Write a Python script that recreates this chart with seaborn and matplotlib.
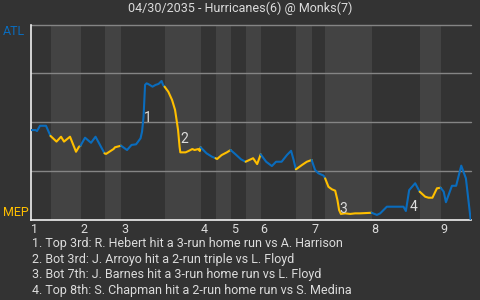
import matplotlib
matplotlib.use("Agg")
import matplotlib.pyplot as plt
import seaborn as sns
import pandas as pd

# ---------------- data ----------------
title = "04/30/2035 - Hurricanes(6) @ Monks(7)"
away_label = "ATL"
home_label = "MEP"

# half-inning boundaries (pitch number)
half_bounds = [0, 13, 33, 49, 60, 89, 113, 123, 133, 143, 153, 176.5, 187, 196, 227, 259, 273, 293]
inning_labels = ["1", "2", "3", "4", "5", "6", "7", "8", "9"]

# win probability (ATL %) by pitch number
pitch = [0, 3, 4, 6, 10, 13,
         17, 20, 22, 26, 30, 32, 33,
         36, 40, 43, 49,
         50, 53, 55, 56, 60,
         64, 67, 70, 71, 73, 74, 75, 76, 77, 78, 81, 83, 85, 87, 88, 89,
         91.5, 94, 96, 97, 98, 99, 99.5, 103, 105, 107.5, 109, 111.5, 112.5, 113,
         117, 120.5, 123,
         124, 127, 130.5, 133,
         136, 140, 143,
         145.5, 148, 150.7, 152.5, 153,
         156.7, 160.5, 163.3, 167, 170.5, 173.3, 175, 176.5,
         180.5, 183.8, 187,
         189.3, 191.5, 195, 196,
         198.2, 200.5, 202.7, 204.2, 205.3, 206.5, 209.3, 212.7, 216, 219.3, 227,
         230.5, 232.7, 237.1, 240.5, 248.2, 249.8, 252, 256, 259,
         262.7, 264.9, 267.5, 270.5, 273,
         275, 276.5, 280.5, 283.3, 286.7, 289.8, 293]
win_prob = [46.0, 46.0, 45.5, 48.2, 48.2, 43.0,
            40.1, 42.6, 40.1, 42.6, 34.9, 37.5, 38.0,
            42.1, 39.5, 42.6, 34.1,
            33.8, 35.3, 36.3, 37.2, 38.0,
            35.8, 38.4, 38.7, 39.7, 41.8, 45.2, 52.8, 69.1, 69.9, 69.6, 68.2, 69.1, 69.6, 71.1, 69.1, 68.2,
            65.6, 61.4, 56.3, 51.2, 46.0, 37.5, 34.6, 34.6, 35.3, 36.3, 35.8, 36.3, 35.3, 37.2,
            34.1, 32.4, 31.6,
            31.2, 33.2, 34.6, 35.8,
            33.8, 31.0, 29.8,
            30.7, 31.6, 28.6, 32.4, 33.6,
            29.8, 27.6, 29.8, 29.8, 33.2, 35.4, 30.7, 25.9,
            28.1, 29.8, 30.7,
            25.6, 23.9, 22.7, 21.3,
            17.0, 15.7, 15.0, 10.2, 5.1, 3.1, 3.4, 3.1, 3.4, 3.4, 3.7,
            2.6, 3.4, 6.8, 6.8, 6.8, 4.6, 15.3, 18.8, 14.5,
            11.9, 11.4, 11.4, 16.2, 16.5,
            14.5, 9.1, 17.5, 17.5, 27.8, 21.3, 0.0]

event_numbers = ["1", "2", "3", "4"]
event_x = [78, 102, 208, 254.7]
event_y = [52.2, 41.4, 5.4, 6.8]
event_texts = [
    "1. Top 3rd: R. Hebert hit a 3-run home run vs A. Harrison",
    "2. Bot 3rd: J. Arroyo hit a 2-run triple vs L. Floyd",
    "3. Bot 7th: J. Barnes hit a 3-run home run vs L. Floyd",
    "4. Top 8th: S. Chapman hit a 2-run home run vs S. Medina",
]

# ---------------- style ----------------
BG = "#333333"
BAND = "#434343"
GRID = "#858585"
TXT = "#dcdcdc"
BLUE = "#0a6cbd"
YELLOW = "#ffbf00"
FS = 9.0

sns.set_theme(style="dark", rc={"figure.facecolor": BG, "axes.facecolor": BG})
plt.rcParams["font.family"] = ["Roboto", "DejaVu Sans"]

W, H = 480, 300
fig = plt.figure(figsize=(W / 100, H / 100), dpi=100)
ax = fig.add_axes([31 / W, 1 - 220 / H, (470.7 - 31) / W, (220 - 24.5) / H])
ax.set_facecolor(BG)

# bottom-half bands
for i in range(len(half_bounds) - 1):
    if i % 2 == 1:
        ax.axvspan(half_bounds[i], half_bounds[i + 1], color=BAND, lw=0, zorder=0)

for v in [25, 50, 75, 100]:
    ax.axhline(v, color=GRID, lw=1.0, clip_on=False, zorder=1)

df = pd.DataFrame({"pitch": pitch, "wp": win_prob})
for i in range(len(half_bounds) - 1):
    seg = df[(df.pitch >= half_bounds[i]) & (df.pitch <= half_bounds[i + 1])]
    sns.lineplot(data=seg, x="pitch", y="wp", color=BLUE if i % 2 == 0 else YELLOW,
                 lw=1.5, sort=False, estimator=None, ax=ax, zorder=3)

for n, x, y in zip(event_numbers, event_x, event_y):
    ax.text(x, y, n, color=TXT, fontsize=10, ha="center", va="center", zorder=4)

ax.set_xlim(half_bounds[0], half_bounds[-1])
ax.set_ylim(0, 100)
ax.set_xlabel("")
ax.set_ylabel("")
ax.set_yticks([])
ax.set_xticks(half_bounds[0:-1:2][:9])
ax.set_xticklabels(inning_labels, ha="left")
ax.tick_params(axis="x", length=0, pad=2, colors=TXT, labelsize=FS)
ax.grid(False)

for s in ["top", "right"]:
    ax.spines[s].set_visible(False)
for s in ["left", "bottom"]:
    ax.spines[s].set_visible(True)
    ax.spines[s].set_color("#f0f0f0")
    ax.spines[s].set_linewidth(1.2)

fig.text(0.5, 1 - 12.3 / H, title, ha="center", va="baseline", color=TXT, fontsize=FS)
fig.text(2.5 / W, 1 - 35 / H, away_label, ha="left", va="baseline", color=BLUE, fontsize=FS)
fig.text(2.5 / W, 1 - 216 / H, home_label, ha="left", va="baseline", color=YELLOW, fontsize=FS)

for k, t in enumerate(event_texts):
    fig.text(31.5 / W, 1 - (246.7 + 15.8 * k) / H, t, ha="left", va="baseline",
             color=TXT, fontsize=FS)

fig.savefig("out.png", dpi=100, facecolor=BG)
